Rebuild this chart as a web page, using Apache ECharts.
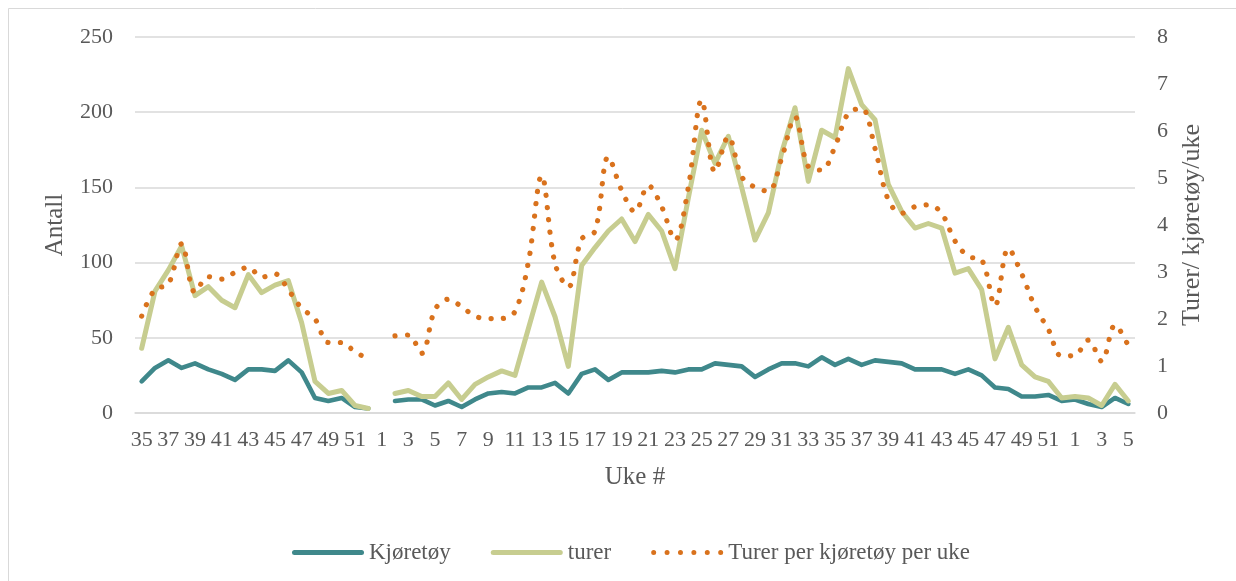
<!DOCTYPE html>
<html>
<head>
<meta charset="utf-8">
<script src="https://cdn.jsdelivr.net/npm/echarts@6/dist/echarts.min.js"></script>
<style>
html,body{margin:0;padding:0;background:#fff;}
#chart{width:1236px;height:581px;}
</style>
</head>
<body>
<div id="chart"></div>
<script>
// Week labels (categories)
const weeks = [
  '35','36','37','38','39','40','41','42','43','44','45','46','47','48','49','50','51','52',
  '1','2','3','4','5','6','7','8','9','10','11','12','13','14','15','16','17','18','19','20',
  '21','22','23','24','25','26','27','28','29','30','31','32','33','34','35','36','37','38','39','40',
  '41','42','43','44','45','46','47','48','49','50','51','52',
  '1','2','3','4','5'
];

// Kjøretøy (vehicles), left axis
const kjoretoy = [
  21, 30, 35, 30, 33, 29, 26, 22, 29, 29, 28, 35, 27, 10, 8, 10, 4, 3,
  null, 8, 9, 9, 5, 8, 4, 9, 13, 14, 13, 17, 17, 20, 13, 26, 29, 22, 27, 27,
  27, 28, 27, 29, 29, 33, 32, 31, 24, 29, 33, 33, 31, 37, 32, 36, 32, 35, 34, 33,
  29, 29, 29, 26, 29, 25, 17, 16, 11, 11, 12, 8,
  9, 6, 4, 10, 6
];

// turer (trips), left axis
const turer = [
  43, 81, 95, 111, 78, 84, 75, 70, 92, 80, 85, 88, 60, 21, 13, 15, 5, 3,
  null, 13, 15, 11, 11, 20, 9, 19, 24, 28, 25, 56, 87, 64, 31, 98, 110, 121, 129, 114,
  132, 121, 96, 143, 188, 166, 184, 150, 115, 133, 173, 203, 154, 188, 183, 229, 205, 195, 152, 134,
  123, 126, 123, 93, 96, 82, 36, 57, 32, 24, 21, 10,
  11, 10, 5, 19, 8
];

// Turer per kjøretøy per uke, right axis
const turerPerKjoretoy = [
  2.06, 2.63, 2.74, 3.6, 2.57, 2.9, 2.85, 2.99, 3.1, 2.89, 2.96, 2.62, 2.23, 2.0, 1.5, 1.5, 1.3, 1.15,
  null, 1.64, 1.66, 1.27, 2.2, 2.42, 2.26, 2.06, 2.01, 2.01, 2.16, 3.2, 5.05, 3.18, 2.68, 3.7, 3.87, 5.45, 4.74, 4.28,
  4.84, 4.39, 3.68, 4.8, 6.66, 5.13, 5.88, 5.03, 4.8, 4.72, 5.42, 6.3, 5.24, 5.17, 5.67, 6.38, 6.48, 5.63, 4.53, 4.25,
  4.39, 4.43, 4.25, 3.66, 3.33, 3.26, 2.28, 3.5, 2.96, 2.26, 1.78, 1.21,
  1.23, 1.55, 1.1, 1.87, 1.43
];

const leftTicks = { min: 0, max: 250, interval: 50 };
const rightTicks = { min: 0, max: 8, interval: 1 };

const FONT = '"Liberation Serif", "DejaVu Serif", serif';
const TXT = '#595959';
const GRID = '#d9d9d9';
const C_KJ = '#3f888b';
const C_TU = '#c7cd90';
const C_RA = '#d9721d';

// legend icon shapes
let dots = 'path://';
for (let k = 0; k < 6; k++) {
  const cx = 2.5 + k * 13.4;
  dots += 'M' + (cx - 2.5) + ',2.5a2.5,2.5 0 1,0 5,0a2.5,2.5 0 1,0 -5,0Z';
}
const bar = 'path://M2.5,0L69.5,0A2.5,2.5 0 0,1 69.5,5L2.5,5A2.5,2.5 0 0,1 2.5,0Z';

const chart = echarts.init(document.getElementById('chart'), null, { renderer: 'canvas' });
chart.setOption({
  backgroundColor: '#ffffff',
  animation: false,
  textStyle: { fontFamily: FONT, color: TXT },
  graphic: [{
    type: 'rect', silent: true, z: -10,
    shape: { x: 8.5, y: 8.5, width: 1260, height: 620 },
    style: { fill: 'none', stroke: GRID, lineWidth: 1 }
  }],
  grid: { left: 135, right: 101, top: 37, bottom: 168, containLabel: false },
  legend: {
    top: 536, left: 287,
    itemWidth: 72, itemHeight: 5, itemGap: 40,
    textStyle: { fontFamily: FONT, fontSize: 23, color: TXT },
    data: [
      { name: 'Kjøretøy', icon: bar },
      { name: 'turer', icon: bar },
      { name: 'Turer per kjøretøy per uke', icon: dots }
    ]
  },
  xAxis: {
    type: 'category',
    data: weeks,
    boundaryGap: true,
    name: 'Uke #',
    nameLocation: 'middle',
    nameGap: 52,
    nameTextStyle: { fontFamily: FONT, fontSize: 25, color: TXT },
    axisLine: { show: true, lineStyle: { color: GRID, width: 1.5 } },
    axisTick: { show: false },
    axisLabel: { interval: 1, fontFamily: FONT, fontSize: 22, color: TXT, margin: 16 },
    splitLine: { show: false }
  },
  yAxis: [{
    type: 'value',
    min: leftTicks.min, max: leftTicks.max, interval: leftTicks.interval,
    name: 'Antall',
    nameLocation: 'middle',
    nameGap: 67,
    nameTextStyle: { fontFamily: FONT, fontSize: 25, color: TXT },
    axisLine: { show: false },
    axisTick: { show: false },
    axisLabel: { fontFamily: FONT, fontSize: 22, color: TXT, margin: 22 },
    splitLine: { show: true, lineStyle: { color: GRID, width: 1.5 } }
  }, {
    type: 'value',
    position: 'right',
    min: rightTicks.min, max: rightTicks.max, interval: rightTicks.interval,
    name: 'Turer/ kjøretøy/uke',
    nameLocation: 'middle',
    nameGap: 42,
    nameTextStyle: { fontFamily: FONT, fontSize: 26, color: TXT },
    axisLine: { show: false },
    axisTick: { show: false },
    axisLabel: { fontFamily: FONT, fontSize: 22, color: TXT, margin: 22 },
    splitLine: { show: false }
  }],
  series: [{
    name: 'Kjøretøy',
    type: 'line',
    data: kjoretoy,
    yAxisIndex: 0,
    symbol: 'none',
    connectNulls: false,
    color: C_KJ,
    lineStyle: { color: C_KJ, width: 4.6, cap: 'round', join: 'round' },
    z: 2
  }, {
    name: 'turer',
    type: 'line',
    data: turer,
    yAxisIndex: 0,
    symbol: 'none',
    connectNulls: false,
    color: C_TU,
    lineStyle: { color: C_TU, width: 5, cap: 'round', join: 'round' },
    z: 3
  }, {
    name: 'Turer per kjøretøy per uke',
    type: 'line',
    data: turerPerKjoretoy,
    yAxisIndex: 1,
    symbol: 'none',
    smooth: 0.35,
    connectNulls: false,
    color: C_RA,
    lineStyle: { color: C_RA, width: 5.2, type: [0.1, 12.3], cap: 'round', join: 'round' },
    z: 4
  }]
});
</script>
</body>
</html>
